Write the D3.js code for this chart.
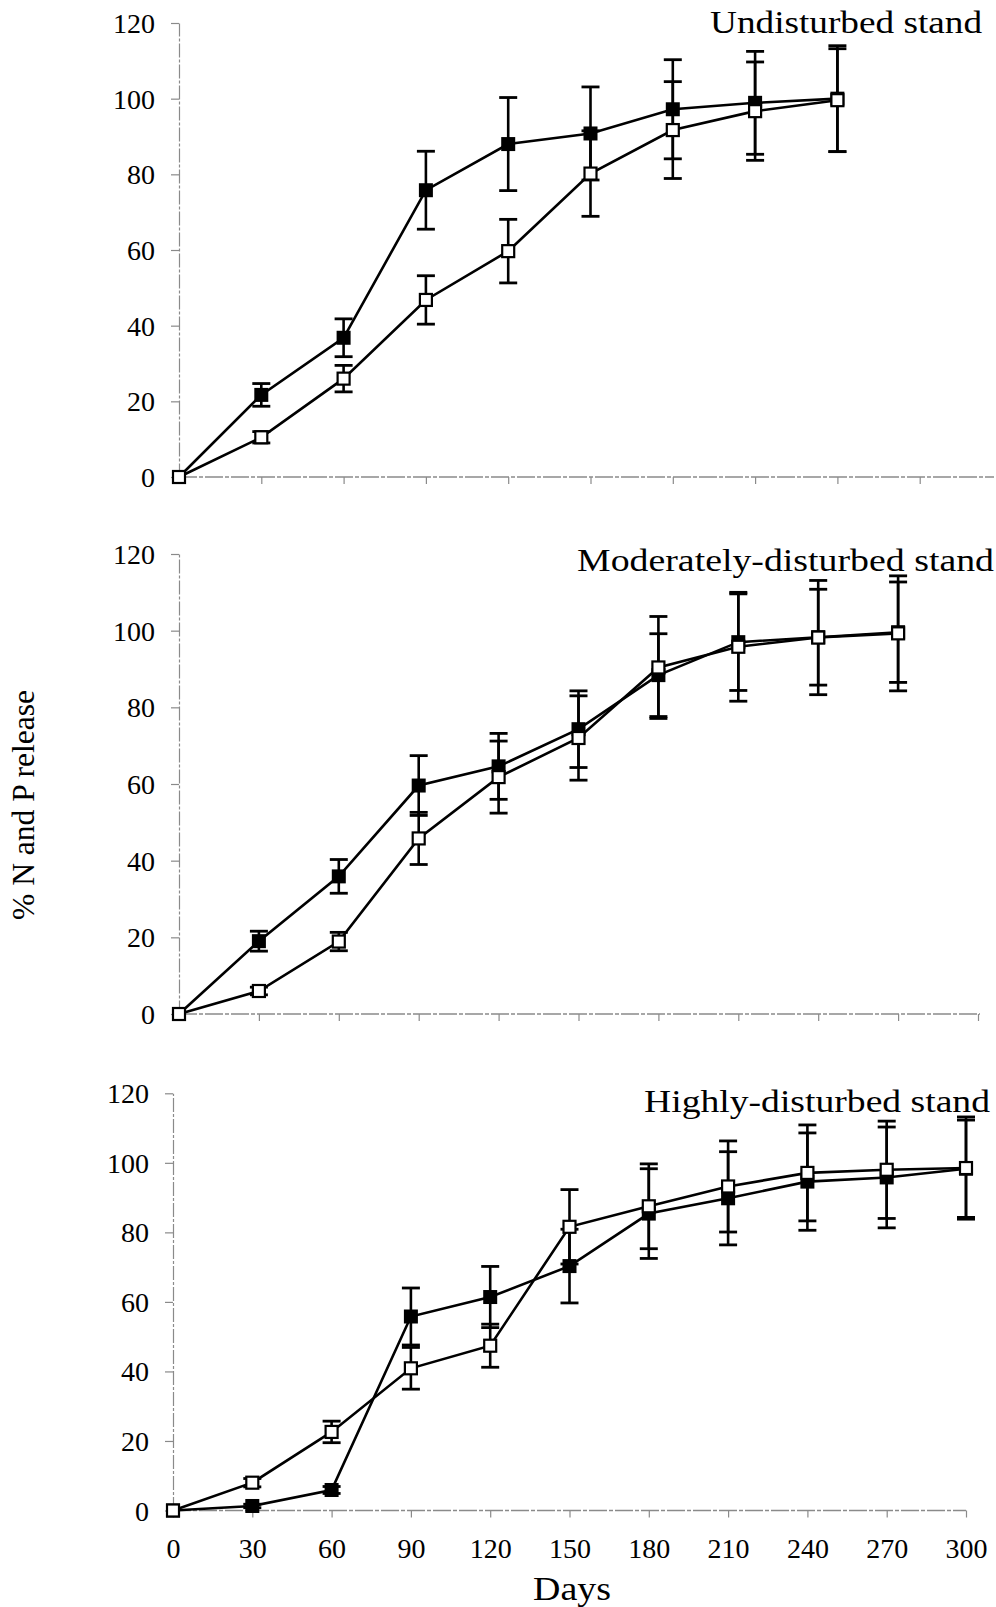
<!DOCTYPE html>
<html>
<head>
<meta charset="utf-8">
<script src="https://cdn.jsdelivr.net/npm/d3@7/dist/d3.min.js"></script>
<style>
  html, body { margin: 0; padding: 0; background: #fff; }
  svg { display: block; }
  text { font-family: "Liberation Serif", "Times New Roman", serif; fill: #000; }
</style>
</head>
<body>
<svg id="chart" width="996" height="1607"></svg>
<script>
// ---------------- data ----------------
const days = [0, 30, 60, 90, 120, 150, 180, 210, 240, 270, 300];
const yTickValues = [0, 20, 40, 60, 80, 100, 120];
const panelTitles = ["Undisturbed stand", "Moderately-disturbed stand", "Highly-disturbed stand"];
const xAxisTitle = "Days";
const yAxisTitle = "% N and P release";

// Undisturbed stand (9 sampling dates)
const undisturbedFilled    = [0, 21.7, 36.8, 75.8, 88.0, 90.8, 97.2, 98.9, 100.0];
const undisturbedFilledErr = [0, 3.0, 5.0, 10.3, 12.3, 12.3, 13.1, 13.6, 14.0];
const undisturbedOpen      = [0, 10.5, 26.0, 46.8, 59.7, 80.2, 91.7, 96.7, 99.6];
const undisturbedOpenErr   = [0, 1.5, 3.5, 6.4, 8.4, 11.3, 12.8, 13.0, 13.6];

// Moderately-disturbed stand (10 sampling dates)
const moderateFilled    = [0, 19.0, 35.9, 59.6, 64.6, 74.3, 88.4, 97.0, 98.3, 99.6];
const moderateFilledErr = [0, 2.6, 4.4, 7.8, 8.6, 10.0, 10.8, 12.6, 12.5, 13.1];
const moderateOpen      = [0, 6.0, 18.9, 45.8, 61.8, 72.0, 90.4, 95.8, 98.2, 99.3];
const moderateOpenErr   = [0, 1.0, 2.4, 6.8, 9.4, 11.0, 13.3, 14.2, 14.9, 15.0];

// Highly-disturbed stand (11 sampling dates)
const highlyFilled    = [0, 1.3, 5.9, 55.8, 61.4, 70.3, 85.4, 89.8, 94.6, 95.8, 98.3];
const highlyFilledErr = [0, 0.5, 1.0, 8.2, 8.8, 10.6, 12.9, 13.4, 14.0, 14.5, 14.0];
const highlyOpen      = [0, 8.0, 22.6, 40.9, 47.4, 81.6, 87.5, 93.2, 97.1, 98.0, 98.5];
const highlyOpenErr   = [0, 1.2, 3.1, 6.0, 6.2, 10.7, 12.2, 13.1, 13.8, 14.0, 14.7];

// ---------------- layout ----------------
const svg = d3.select("#chart");
const AXIS_GRAY = "#8a8a8a";

const panels = [
  { title: panelTitles[0], xr: [179, 1002], yr: [477, 23], axisEnd: 994, xTicks: days.slice(0, 10), labels: false,
    titleX: 710, titleY: 33, titleW: 272,
    filled: undisturbedFilled, filledErr: undisturbedFilledErr, open: undisturbedOpen, openErr: undisturbedOpenErr },
  { title: panelTitles[1], xr: [179, 978], yr: [1014, 554], axisEnd: 980, xTicks: days, labels: false,
    titleX: 577, titleY: 571, titleW: 417,
    filled: moderateFilled, filledErr: moderateFilledErr, open: moderateOpen, openErr: moderateOpenErr },
  { title: panelTitles[2], xr: [173, 966], yr: [1510.5, 1093.3], axisEnd: 966, xTicks: days, labels: true,
    titleX: 644, titleY: 1112, titleW: 346,
    filled: highlyFilled, filledErr: highlyFilledErr, open: highlyOpen, openErr: highlyOpenErr }
];

function drawPanel(p) {
  const x = d3.scaleLinear().domain([0, 300]).range(p.xr);
  const y = d3.scaleLinear().domain([0, 120]).range(p.yr);
  const g = svg.append("g");

  // y axis
  const yAxis = d3.axisLeft(y).tickValues(yTickValues).tickSize(8).tickPadding(16).tickSizeOuter(0);
  const ya = g.append("g").attr("transform", `translate(${p.xr[0]},0)`).call(yAxis);
  ya.select(".domain").attr("stroke", AXIS_GRAY).attr("stroke-width", 1.2).attr("stroke-dasharray", "14,2,3,2");
  ya.selectAll(".tick line").attr("stroke", AXIS_GRAY).attr("stroke-width", 1.2);
  ya.selectAll(".tick text").style("font-family", "Liberation Serif").style("font-size", "28px")
    .attr("fill", "#000").attr("dy", "0.34em");

  // x axis
  const xAxis = d3.axisBottom(x).tickValues(p.xTicks).tickSize(7).tickSizeOuter(0);
  const xa = g.append("g").attr("transform", `translate(0,${p.yr[0]})`).call(xAxis);
  xa.select(".domain").remove();
  xa.append("line").attr("x1", p.xr[0]).attr("x2", p.axisEnd).attr("y1", 0).attr("y2", 0)
    .attr("stroke", AXIS_GRAY).attr("stroke-width", 1.4).attr("stroke-dasharray", "18,2,4,2");
  xa.selectAll(".tick line").attr("stroke", AXIS_GRAY).attr("stroke-width", 1.2);
  if (p.labels) {
    xa.selectAll(".tick text").style("font-family", "Liberation Serif").style("font-size", "28px")
      .attr("fill", "#000").attr("y", 47).attr("dy", 0);
  } else {
    xa.selectAll(".tick text").remove();
  }

  // series
  function series(values, errs, isOpen) {
    const pts = values.map((v, i) => ({ d: days[i], v: v, e: errs[i] }));
    const sg = g.append("g");
    // error bars
    const eb = sg.selectAll("g.err").data(pts.filter(q => q.e > 0)).enter().append("g");
    eb.append("line").attr("x1", q => x(q.d)).attr("x2", q => x(q.d))
      .attr("y1", q => y(q.v + q.e)).attr("y2", q => y(q.v - q.e))
      .attr("stroke", "#000").attr("stroke-width", 2.6);
    [1, -1].forEach(s => {
      eb.append("line").attr("x1", q => x(q.d) - 9).attr("x2", q => x(q.d) + 9)
        .attr("y1", q => y(q.v + s * q.e)).attr("y2", q => y(q.v + s * q.e))
        .attr("stroke", "#000").attr("stroke-width", 2.8);
    });
    // line
    sg.append("path").datum(pts)
      .attr("d", d3.line().x(q => x(q.d)).y(q => y(q.v)))
      .attr("fill", "none").attr("stroke", "#000").attr("stroke-width", 2.6);
    // markers
    const s = isOpen ? 12 : 14;
    sg.selectAll("rect").data(pts).enter().append("rect")
      .attr("x", q => x(q.d) - s / 2).attr("y", q => y(q.v) - s / 2)
      .attr("width", s).attr("height", s)
      .attr("fill", isOpen ? "#fff" : "#000")
      .attr("stroke", "#000").attr("stroke-width", isOpen ? 2.2 : 0);
  }
  series(p.filled, p.filledErr, false);
  series(p.open, p.openErr, true);

  // title
  g.append("text").attr("x", p.titleX).attr("y", p.titleY)
    .attr("textLength", p.titleW).attr("lengthAdjust", "spacingAndGlyphs")
    .style("font-size", "32px").text(p.title);
}

panels.forEach(drawPanel);

// axis titles
svg.append("text").attr("x", 572).attr("y", 1600).attr("text-anchor", "middle")
  .attr("textLength", 78).attr("lengthAdjust", "spacingAndGlyphs")
  .style("font-size", "33px").text(xAxisTitle);

svg.append("text").attr("transform", "translate(34,805) rotate(-90)").attr("text-anchor", "middle")
  .attr("textLength", 230).attr("lengthAdjust", "spacingAndGlyphs")
  .style("font-size", "31px").text(yAxisTitle);
</script>
</body>
</html>
